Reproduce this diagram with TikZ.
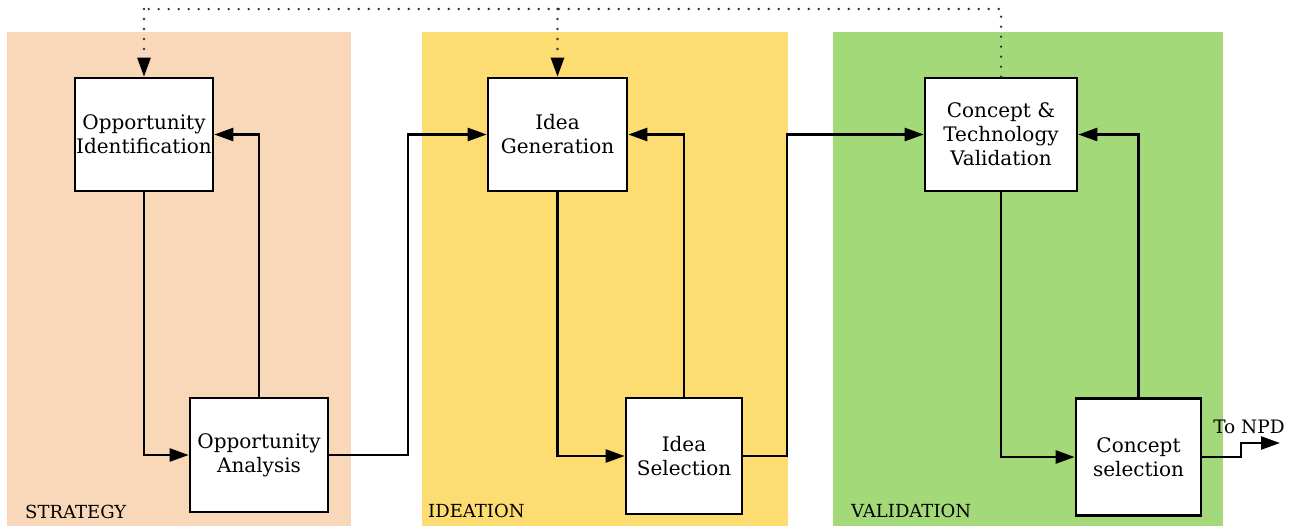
\documentclass[tikz,border=0pt]{standalone}
\usepackage{fontspec}
\setmainfont{DejaVu Serif}
\usetikzlibrary{arrows.meta}
\definecolor{strat}{HTML}{F9D8BA}
\definecolor{idea}{HTML}{FDDC72}
\definecolor{valid}{HTML}{A3D979}
\begin{document}
\begin{tikzpicture}[x=1pt,y=-1pt,
  panel/.style={fill=#1,draw=none},
  procbox/.style={draw=black,line width=2.6pt,fill=white,inner sep=0pt,align=center,
    font=\fontsize{20}{24}\selectfont,text=black},
  flow/.style={line width=2.4pt,-{Triangle[length=19pt,width=13pt]}},
  dots/.style={line width=2.6pt,black!80,dash pattern=on 0pt off 10pt,line cap=round},
  dotarrow/.style={dots,-{Triangle[length=19pt,width=13pt,line cap=butt,sep=0pt,fill=black,color=black]}},
  phase/.style={anchor=base west,inner sep=0pt,font=\fontsize{18}{22}\selectfont,text=black}]
\useasboundingbox (0,0) rectangle (1294,528);
% panels
\fill[panel=strat] (7,32) rectangle (351,526);
\fill[panel=idea] (422,32) rectangle (788,526);
\fill[panel=valid] (833,32) rectangle (1223,526);
\node[phase] (lstrat) at (25,518) {STRATEGY};
\node[phase] (lidea) at (428,517) {IDEATION};
\node[phase] (lvalid) at (851,517) {VALIDATION};
% boxes
\node[procbox,minimum width=138pt,minimum height=113pt] (oi) at (144,134.5) {Opportunity\\Identification};
\node[procbox,minimum width=138pt,minimum height=114pt] (oa) at (259,455) {Opportunity\\Analysis};
\node[procbox,minimum width=139pt,minimum height=113pt] (ig) at (557.5,134.5) {Idea\\Generation};
\node[procbox,minimum width=116pt,minimum height=116pt] (is) at (684,456) {Idea\\Selection};
\node[procbox,minimum width=152pt,minimum height=113pt] (ctv) at (1001,134.5) {Concept \&\\Technology\\Validation};
\node[procbox,minimum width=125pt,minimum height=117pt] (cs) at (1138.5,457) {Concept\\selection};
% connectors
\draw[flow] (oi.south) |- (oa.west);
\draw[flow] (oa.north) |- (oi.east);
\draw[flow] (oa.east) -- (408,455) |- (ig.west);
\draw[flow] (ig.south) |- (is.west);
\draw[flow] (is.north) |- (ig.east);
\draw[flow] (is.east) -- (787,456) |- (ctv.west);
\draw[flow] (ctv.south) |- (cs.west);
\draw[flow] (cs.north) |- (ctv.east);
\coordinate (npd) at (1280,443);
\draw[flow] (cs.east) -- (1241,457) |- (npd);
\node[anchor=base,inner sep=0pt,font=\fontsize{18.5}{22}\selectfont,text=black] (tonpd) at (1249,433) {To NPD};
% dotted feedback
\coordinate (topr) at (1001,9);
\coordinate (topl) at (144,9);
\coordinate (topm) at (557.5,9);
\draw[dots] (ctv.north) -- (topr) -- (topl);
\draw[dotarrow] (topl) -- (oi.north);
\draw[dotarrow] (topm) -- (ig.north);
\end{tikzpicture}
\end{document}
